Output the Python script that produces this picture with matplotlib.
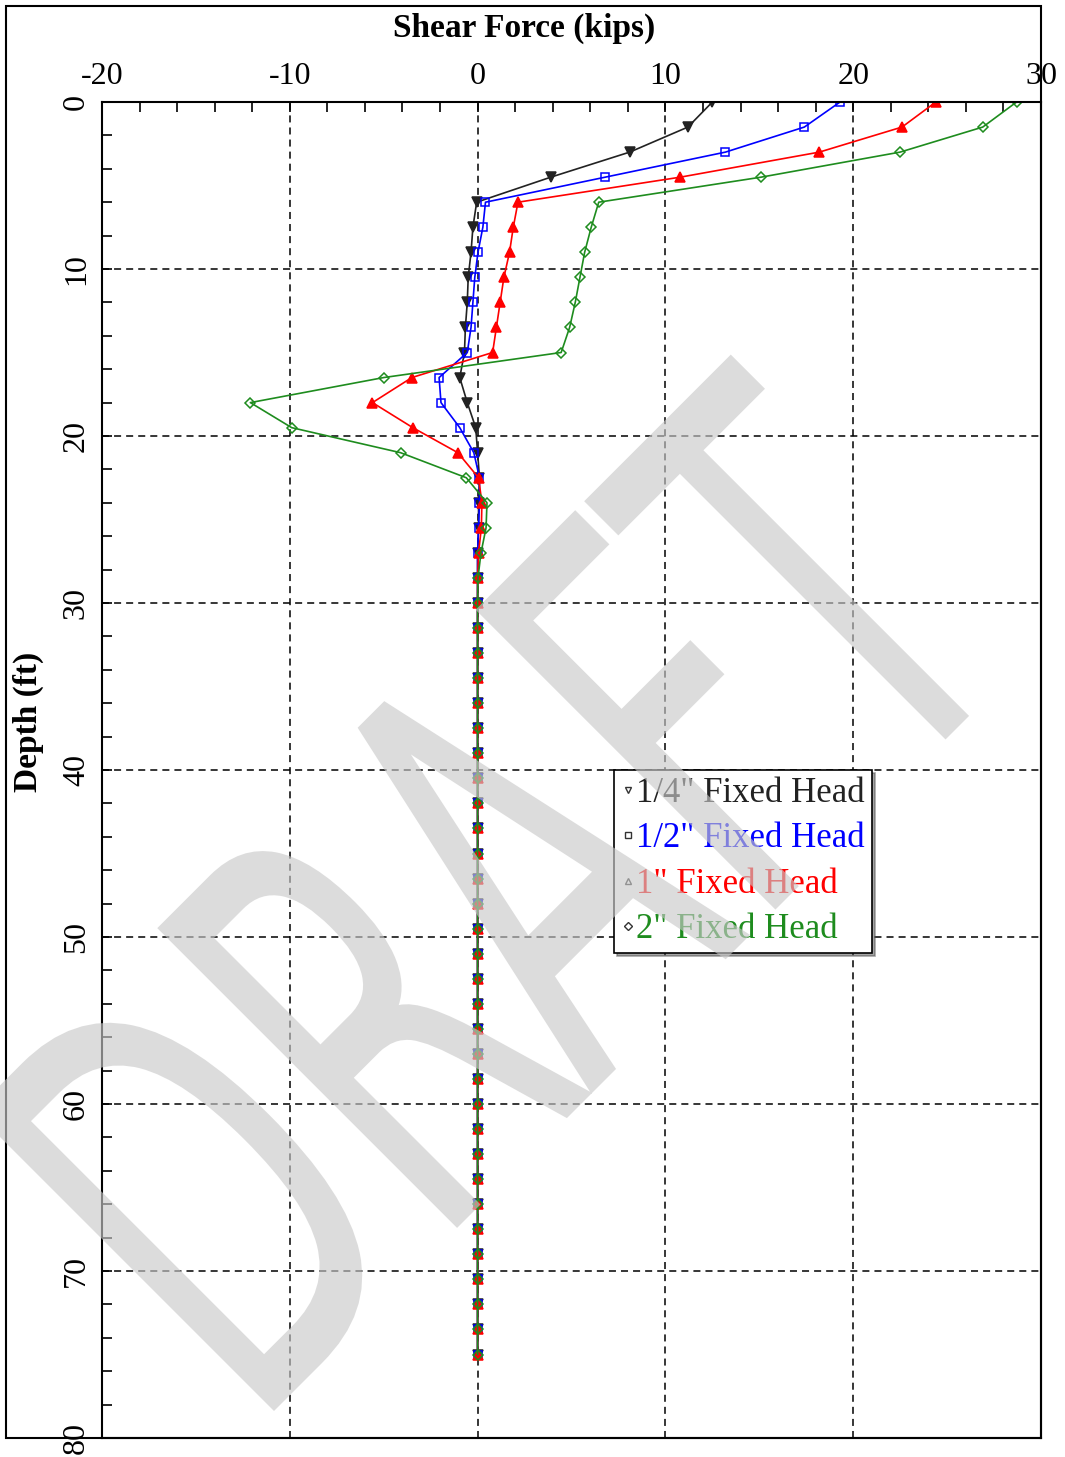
import numpy as np
import matplotlib
matplotlib.use("Agg")
import matplotlib.pyplot as plt
from matplotlib.ticker import MultipleLocator
from matplotlib.lines import Line2D
from matplotlib.patches import Rectangle, PathPatch
from matplotlib.textpath import TextPath
from matplotlib.font_manager import FontProperties
from matplotlib.transforms import Affine2D, IdentityTransform

plt.rcParams['axes.unicode_minus'] = False

# depth (ft) of each output node
depth = [0.0, 1.5, 3.0, 4.5, 6.0, 7.5, 9.0, 10.5, 12.0, 13.5, 15.0, 16.5, 18.0,
         19.5, 21.0, 22.5, 24.0, 25.5, 27.0, 28.5, 30.0, 31.5, 33.0, 34.5, 36.0,
         37.5, 39.0, 40.5, 42.0, 43.5, 45.0, 46.5, 48.0, 49.5, 51.0, 52.5, 54.0,
         55.5, 57.0, 58.5, 60.0, 61.5, 63.0, 64.5, 66.0, 67.5, 69.0, 70.5, 72.0,
         73.5, 75.0]

# shear force (kips)
shear_quarter = [12.5, 11.2, 8.1, 3.9, -0.05, -0.25, -0.35, -0.5, -0.55, -0.65, -0.7,
                 -0.95, -0.55, -0.1, 0.0, 0.1, 0.05, 0.05, 0.0, 0.0, 0.0, 0.0, 0.0,
                 0.0, 0.0, 0.0, 0.0, 0.0, 0.0, 0.0, 0.0, 0.0, 0.0, 0.0, 0.0, 0.0,
                 0.0, 0.0, 0.0, 0.0, 0.0, 0.0, 0.0, 0.0, 0.0, 0.0, 0.0, 0.0, 0.0,
                 0.0, 0.0]
shear_half = [19.3, 17.4, 13.2, 6.8, 0.42, 0.28, 0.02, -0.15, -0.25, -0.35, -0.55,
              -2.05, -1.95, -0.95, -0.2, 0.1, 0.1, 0.05, 0.0, 0.0, 0.0, 0.0, 0.0,
              0.0, 0.0, 0.0, 0.0, 0.0, 0.0, 0.0, 0.0, 0.0, 0.0, 0.0, 0.0, 0.0,
              0.0, 0.0, 0.0, 0.0, 0.0, 0.0, 0.0, 0.0, 0.0, 0.0, 0.0, 0.0, 0.0,
              0.0, 0.0]
shear_one = [24.4, 22.6, 18.2, 10.8, 2.15, 1.9, 1.7, 1.4, 1.2, 1.0, 0.8,
             -3.5, -5.6, -3.45, -1.05, 0.05, 0.23, 0.2, 0.05, 0.0, 0.0, 0.0, 0.0,
             0.0, 0.0, 0.0, 0.0, 0.0, 0.0, 0.0, 0.0, 0.0, 0.0, 0.0, 0.0, 0.0,
             0.0, 0.0, 0.0, 0.0, 0.0, 0.0, 0.0, 0.0, 0.0, 0.0, 0.0, 0.0, 0.0,
             0.0, 0.0]
shear_two = [28.7, 26.9, 22.5, 15.1, 6.45, 6.05, 5.7, 5.45, 5.2, 4.9, 4.45,
             -5.0, -12.1, -9.9, -4.1, -0.6, 0.5, 0.45, 0.18, 0.02, 0.0, 0.0, 0.0,
             0.0, 0.0, 0.0, 0.0, 0.0, 0.0, 0.0, 0.0, 0.0, 0.0, 0.0, 0.0, 0.0,
             0.0, 0.0, 0.0, 0.0, 0.0, 0.0, 0.0, 0.0, 0.0, 0.0, 0.0, 0.0, 0.0,
             0.0, 0.0]

labels = ['1/4" Fixed Head', '1/2" Fixed Head', '1" Fixed Head', '2" Fixed Head']
colors = ['#222222', '#0000ff', '#ff0000', '#1e8c1e']
markers = ['v', 's', '^', 'D']

serif = 'Liberation Serif'
W, H = 1065, 1457

fig = plt.figure(figsize=(W / 100, H / 100), dpi=100)
ax = fig.add_axes([102 / W, 19 / H, 939 / W, 1336 / H])

series = [shear_quarter, shear_half, shear_one, shear_two]
fills = ['#222222', 'none', '#ff0000', 'none']
sizes = [6.5, 6.2, 6.5, 5.2]
for vals, c, m, fc, ms in zip(series, colors, markers, fills, sizes):
    ax.plot(vals, depth, color=c, lw=1.2, marker=m, ms=ms,
            mfc=fc, mec=c, mew=1.1)

ax.set_xlim(-20, 30)
ax.set_ylim(80, 0)
ax.xaxis.tick_top()
ax.set_xticks([-20, -10, 0, 10, 20, 30])
ax.set_yticks([0, 10, 20, 30, 40, 50, 60, 70, 80])
ax.xaxis.set_minor_locator(MultipleLocator(2))
ax.yaxis.set_minor_locator(MultipleLocator(2))
ax.tick_params(which='both', direction='in', top=True, bottom=False,
               left=True, right=False, length=7, width=1.2,
               labelsize=23, pad=8)
ax.tick_params(axis='y', labelrotation=90)
for lab in ax.get_xticklabels() + ax.get_yticklabels():
    lab.set_fontfamily(serif)
for lab in ax.get_yticklabels():
    lab.set_va('center')

ax.grid(True, which='major', color='k', linestyle=(0, (4.6, 3.3)), linewidth=1.1)
for s in ax.spines.values():
    s.set_linewidth(1.5)

# legend with small grey markers and coloured text
handles = [Line2D([], [], ls='none', marker=m, ms=4, mfc='white', mec='#333333', mew=1.0)
           for m in markers]
leg = ax.legend(handles, labels, loc='upper left', bbox_to_anchor=(0.545, 0.5),
                borderaxespad=0, handlelength=0.4, handletextpad=0.05,
                borderpad=0.2, labelspacing=0.36, fancybox=False, shadow=True,
                framealpha=1, edgecolor='k', prop={'family': serif, 'size': 25})
leg.get_frame().set_linewidth(1.2)
for t, c in zip(leg.get_texts(), colors):
    t.set_color(c)

fig.text(524 / W, 1 - 28 / H, 'Shear Force (kips)', ha='center', va='center',
         fontsize=24, fontweight='bold', family=serif)
fig.text(28 / W, 1 - 722 / H, 'Depth (ft)', ha='center', va='center', rotation=90,
         fontsize=24, fontweight='bold', family=serif)

# outer frame
fig.add_artist(Rectangle((6 / W, 19 / H), 1035 / W, 1432 / H, transform=fig.transFigure,
                         fill=False, lw=1.5, ec='k'))

# DRAFT watermark on top
tp = TextPath((0, 0), 'DRAFT', size=100, prop=FontProperties(family='DejaVu Sans'))
bb = tp.get_extents()
tr = (Affine2D().translate(-bb.x0, -bb.y0)
      .scale(1070 / bb.width, 424 / bb.height)
      .rotate_deg(45).translate(274, 46))
wm = PathPatch(tr.transform_path(tp), transform=IdentityTransform(),
               fc=(0.79, 0.79, 0.79), ec='none', alpha=0.64, zorder=10)
fig.add_artist(wm)

fig.savefig('out.png', dpi=100)
